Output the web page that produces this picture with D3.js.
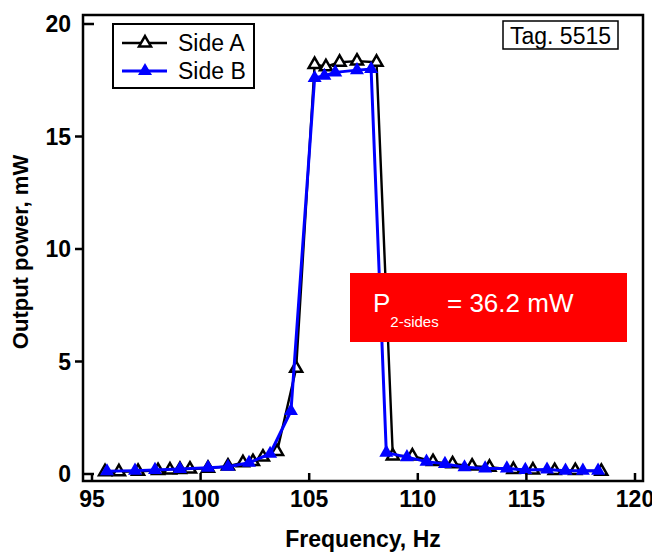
<!DOCTYPE html>
<html>
<head>
<meta charset="utf-8">
<script src="https://d3js.org/d3.v7.min.js"></script>
<style>
  body { margin: 0; background: #fff; }
  text { font-family: "Liberation Sans", Arial, sans-serif; }
</style>
</head>
<body>
<div id="chart"></div>
<script>
// Side A (open black triangles)
var freqA = [95.6, 96.24, 97.12, 98.04, 98.59, 99.05, 99.51, 100.34, 101.26, 101.95, 102.41, 102.87, 103.52,
             104.4, 105.25, 105.77, 106.4, 107.2, 108.1,
             108.85, 109.75, 110.7, 111.6, 112.5, 113.3, 114.4, 115.3, 116.3, 117.25, 118.45];
var powerA = [0.1, 0.1, 0.12, 0.15, 0.18, 0.2, 0.22, 0.25, 0.35, 0.5, 0.55, 0.75, 1.0,
              4.7, 18.2, 18.1, 18.3, 18.35, 18.3,
              0.8, 0.8, 0.55, 0.45, 0.35, 0.3, 0.2, 0.18, 0.15, 0.15, 0.12];
// Side B (filled blue triangles)
var freqB = [95.69, 96.98, 97.9, 99.05, 100.34, 101.26, 102.23, 103.2,
             104.16, 105.25, 105.7, 106.2, 107.2, 107.85,
             108.55, 109.5, 110.4, 111.25, 112.15, 113.1, 114.1, 114.95, 115.95, 116.8, 117.6, 118.3];
var powerB = [0.12, 0.15, 0.18, 0.22, 0.28, 0.32, 0.5, 0.9,
              2.8, 17.6, 17.7, 17.85, 17.95, 18.0,
              0.95, 0.75, 0.55, 0.45, 0.3, 0.25, 0.25, 0.18, 0.2, 0.15, 0.15, 0.15];
var xTicks = [95, 100, 105, 110, 115, 120];
var yTicks = [0, 5, 10, 15, 20];

var W = 652, H = 552;
var svg = d3.select("#chart").append("svg").attr("width", W).attr("height", H);

// scales (x: 95 -> 92px, 120 -> 635px ; y: 0 -> 474px, 20 -> 24px)
var x = d3.scaleLinear().domain([95, 120]).range([92, 635]);
var y = d3.scaleLinear().domain([0, 20]).range([474, 24]);
var fL = 83, fR = 643, fT = 15, fB = 481;   // plot frame

var dataA = freqA.map(function(f, i) { return [f, powerA[i]]; });
var dataB = freqB.map(function(f, i) { return [f, powerB[i]]; });

var line = d3.line().x(function(d) { return x(d[0]); }).y(function(d) { return y(d[1]); });
var tri = d3.symbol().type(d3.symbolTriangle);

// side A
svg.append("path").datum(dataA).attr("d", line)
  .attr("fill", "none").attr("stroke", "#000").attr("stroke-width", 2.4);
svg.selectAll(".markA").data(dataA).enter().append("path")
  .attr("class", "markA")
  .attr("d", tri.size(62)())
  .attr("transform", function(d) { return "translate(" + x(d[0]) + "," + y(d[1]) + ")"; })
  .attr("fill", "#fff").attr("stroke", "#000").attr("stroke-width", 2.5);

// side B
svg.append("path").datum(dataB).attr("d", line)
  .attr("fill", "none").attr("stroke", "#0000ff").attr("stroke-width", 3);
svg.selectAll(".markB").data(dataB).enter().append("path")
  .attr("class", "markB")
  .attr("d", tri.size(85)())
  .attr("transform", function(d) { return "translate(" + x(d[0]) + "," + y(d[1]) + ")"; })
  .attr("fill", "#0000ff");

// frame
svg.append("rect").attr("x", fL).attr("y", fT)
  .attr("width", fR - fL).attr("height", fB - fT)
  .attr("fill", "none").attr("stroke", "#000").attr("stroke-width", 2.5);

// x ticks (inward)
svg.selectAll(".xt").data(xTicks).enter().append("line")
  .attr("x1", function(d) { return x(d); }).attr("x2", function(d) { return x(d); })
  .attr("y1", fB).attr("y2", fB - 8)
  .attr("stroke", "#000").attr("stroke-width", 2.5);
svg.selectAll(".xl").data(xTicks).enter().append("text")
  .attr("x", function(d) { return x(d); }).attr("y", 507)
  .attr("text-anchor", "middle").attr("font-size", 23).attr("font-weight", "bold")
  .text(function(d) { return d; });

// y ticks
svg.selectAll(".yt").data(yTicks).enter().append("line")
  .attr("x1", function(d) { return (d === 0 || d === 20) ? fL : fL - 8; })
  .attr("x2", function(d) { return (d === 0 || d === 20) ? fL + 11 : fL; })
  .attr("y1", function(d) { return y(d); }).attr("y2", function(d) { return y(d); })
  .attr("stroke", "#000").attr("stroke-width", 2.5);
svg.selectAll(".yl").data(yTicks).enter().append("text")
  .attr("x", 71).attr("y", function(d) { return y(d) + 8; })
  .attr("text-anchor", "end").attr("font-size", 23).attr("font-weight", "bold")
  .text(function(d) { return d; });

// axis titles
svg.append("text").attr("x", 363).attr("y", 547)
  .attr("text-anchor", "middle").attr("font-size", 23).attr("font-weight", "bold")
  .text("Frequency, Hz");
svg.append("text").attr("transform", "translate(28,252) rotate(-90)")
  .attr("text-anchor", "middle").attr("font-size", 22).attr("font-weight", "bold")
  .text("Output power, mW");

// legend
var leg = svg.append("g");
leg.append("rect").attr("x", 113).attr("y", 24).attr("width", 141).attr("height", 64)
  .attr("fill", "#fff").attr("stroke", "#000").attr("stroke-width", 2);
leg.append("line").attr("x1", 122).attr("x2", 167).attr("y1", 43).attr("y2", 43)
  .attr("stroke", "#000").attr("stroke-width", 2.4);
leg.append("path").attr("d", tri.size(62)()).attr("transform", "translate(145,43)")
  .attr("fill", "#fff").attr("stroke", "#000").attr("stroke-width", 2.5);
leg.append("text").attr("x", 178).attr("y", 51).attr("font-size", 23).text("Side A");
leg.append("line").attr("x1", 122).attr("x2", 167).attr("y1", 71).attr("y2", 71)
  .attr("stroke", "#0000ff").attr("stroke-width", 3);
leg.append("path").attr("d", tri.size(85)()).attr("transform", "translate(145,71)")
  .attr("fill", "#0000ff");
leg.append("text").attr("x", 178).attr("y", 79).attr("font-size", 23).text("Side B");

// tag box
svg.append("rect").attr("x", 503).attr("y", 21).attr("width", 115).attr("height", 28)
  .attr("fill", "#fff").attr("stroke", "#000").attr("stroke-width", 1.5);
svg.append("text").attr("x", 560.5).attr("y", 44).attr("text-anchor", "middle")
  .attr("font-size", 23).text("Tag. 5515");

// red annotation
svg.append("rect").attr("x", 350).attr("y", 273).attr("width", 277).attr("height", 69)
  .attr("fill", "#ff0000");
var note = svg.append("text").attr("x", 373).attr("y", 312)
  .attr("fill", "#fff").attr("font-family", "'Open Sans', sans-serif").attr("font-size", 26);
note.append("tspan").text("P");
note.append("tspan").attr("dy", 15).attr("font-size", 15).text("2-sides");
note.append("tspan").attr("x", 447).attr("dy", -15).text("= 36.2 mW");
</script>
</body>
</html>
